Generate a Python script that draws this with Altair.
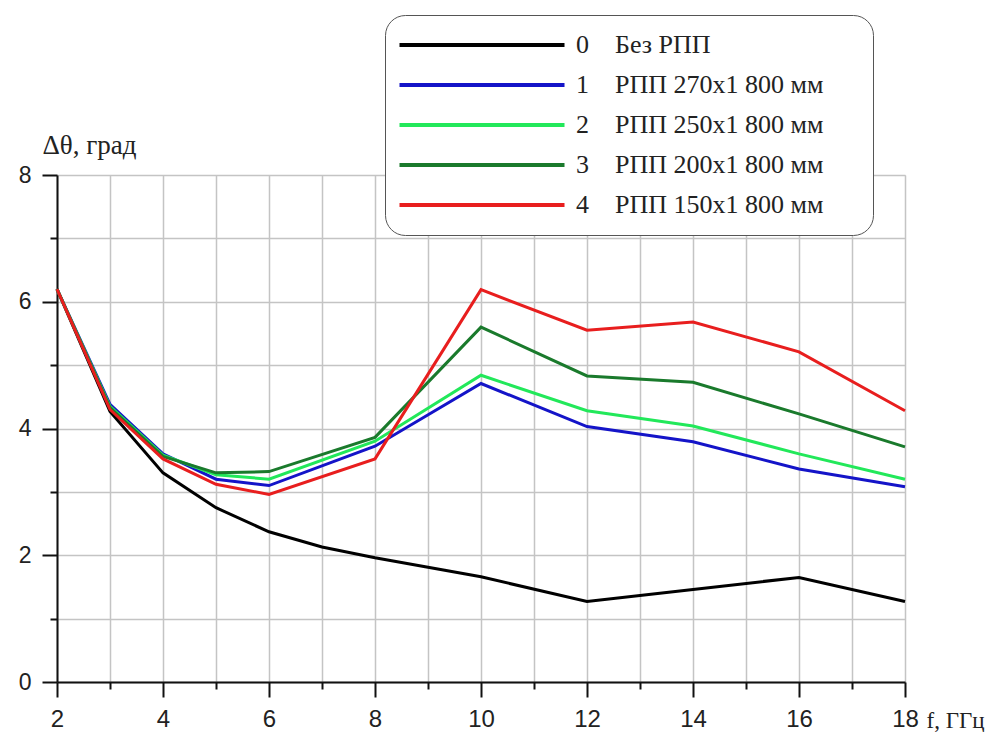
import altair as alt
import pandas as pd

# ---- data ----
freq_black = [2, 3, 4, 5, 6, 7, 8, 9, 10, 12, 14, 16, 18]
s0 = [6.2, 4.27, 3.3, 2.75, 2.37, 2.13, 1.96, 1.81, 1.66, 1.27, 1.46, 1.65, 1.27]

freq = [2, 3, 4, 5, 6, 8, 10, 12, 14, 16, 18]
s1 = [6.2, 4.38, 3.6, 3.2, 3.1, 3.72, 4.71, 4.03, 3.79, 3.36, 3.08]
s2 = [6.2, 4.35, 3.58, 3.27, 3.2, 3.8, 4.84, 4.28, 4.04, 3.6, 3.2]
s3 = [6.2, 4.33, 3.56, 3.3, 3.32, 3.86, 5.6, 4.83, 4.73, 4.23, 3.71]
s4 = [6.2, 4.3, 3.52, 3.12, 2.96, 3.52, 6.19, 5.55, 5.68, 5.21, 4.28]

NB = "\u00a0"
labels = [
    "0" + NB * 4 + "Без РПП",
    "1" + NB * 4 + "РПП 270x1 800 мм",
    "2" + NB * 4 + "РПП 250x1 800 мм",
    "3" + NB * 4 + "РПП 200x1 800 мм",
    "4" + NB * 4 + "РПП 150x1 800 мм",
]
colors = ["#000000", "#1414c8", "#22e85a", "#1a7a2c", "#e81e1e"]

legend_labels = [l + NB * 5 + "\u200b" for l in labels]
rows = []
for x, y in zip(freq_black, s0):
    rows.append({"f": x, "v": y, "s": legend_labels[0]})
for lab, ser in zip(legend_labels[1:], [s1, s2, s3, s4]):
    for x, y in zip(freq, ser):
        rows.append({"f": x, "v": y, "s": lab})
df = pd.DataFrame(rows)

even_tick = {"condition": {"test": "datum.value % 2 === 0", "value": 15}, "value": 7}

x_axis = alt.Axis(
    values=list(range(2, 19)),
    labelExpr="datum.value % 2 === 0 ? datum.label : ''",
    tickSize=even_tick,
    tickColor="#111", tickWidth=2,
    domainColor="#111", domainWidth=2,
    gridColor="#c4c4c4", gridWidth=1.5,
    labelFont="Liberation Sans", labelFontSize=24, labelColor="#222",
    labelPadding=10, labelFlush=False, labelOverlap=False,
    title="f, ГГц", titleFont="Liberation Serif", titleFontSize=23,
    titleFontWeight="normal", titleColor="#222",
    titleAlign="left", titleBaseline="alphabetic",
    titleX=869, titleY=45, titleAngle=0,
)
y_axis = alt.Axis(
    values=list(range(0, 9)),
    labelExpr="datum.value % 2 === 0 ? datum.label : ''",
    tickSize=even_tick,
    tickColor="#111", tickWidth=2,
    domainColor="#111", domainWidth=2,
    gridColor="#c4c4c4", gridWidth=1.5,
    labelFont="Liberation Sans", labelFontSize=23, labelColor="#222",
    labelPadding=11, labelOverlap=False,
    title="Δθ, град", titleFont="Liberation Serif", titleFontSize=27,
    titleFontWeight="normal", titleColor="#222",
    titleAlign="left", titleBaseline="alphabetic",
    titleX=-15, titleY=-22, titleAngle=0,
)

chart = alt.Chart(df).mark_line(strokeWidth=3).encode(
    x=alt.X("f:Q", scale=alt.Scale(domain=[2, 18], nice=False, zero=False), axis=x_axis),
    y=alt.Y("v:Q", scale=alt.Scale(domain=[0, 8], nice=False), axis=y_axis),
    color=alt.Color(
        "s:N",
        scale=alt.Scale(domain=legend_labels, range=colors),
        sort=legend_labels,
        legend=alt.Legend(
            title=None, orient="none", legendX=328, legendY=-160,
            symbolType="M-8.25,0H8.25", symbolSize=400, symbolStrokeWidth=4,
            symbolOffset=67, labelOffset=81,
            labelFont="Liberation Serif", labelFontSize=26, labelColor="#222",
            rowPadding=14, padding=17, labelLimit=800,
            fillColor="white", strokeColor="#555", cornerRadius=20,
        ),
    ),
    detail="s:N",
).properties(
    width=848, height=507,
    autosize=alt.AutoSizeParams(type="none"),
    padding={"left": 49, "top": 167, "right": 95, "bottom": 50},
).configure_view(stroke="#111", strokeWidth=2).configure(background="white")

chart.save("out.html", embed_options={"renderer": "svg", "actions": False})
